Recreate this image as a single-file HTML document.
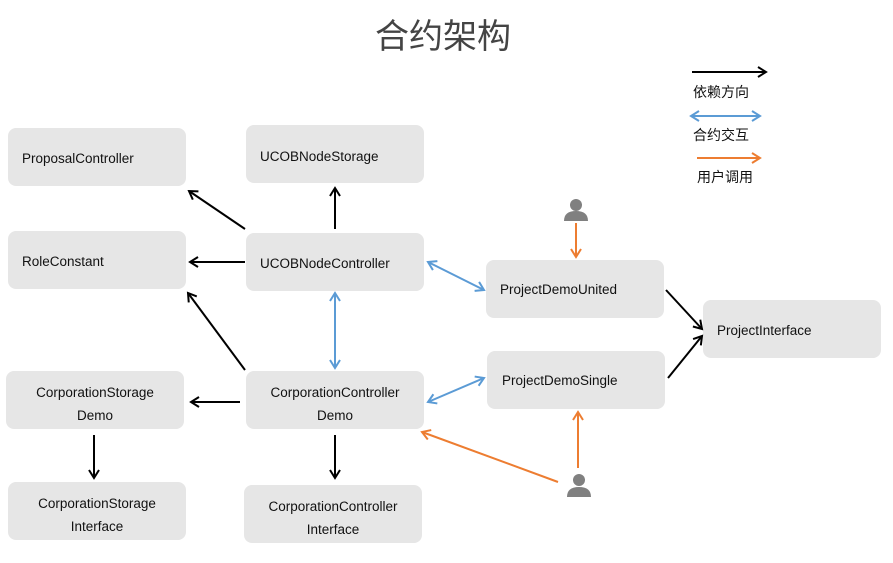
<!DOCTYPE html>
<html><head><meta charset="utf-8"><style>
body{margin:0;background:#fff}
svg{display:block}
text{font-family:"Liberation Sans","Noto Sans CJK SC",sans-serif;font-size:13.5px;fill:#111}
</style></head><body>
<svg width="893" height="563" viewBox="0 0 893 563">
<defs>
<marker id="k" markerWidth="12" markerHeight="12" refX="9" refY="6" orient="auto-start-reverse" markerUnits="userSpaceOnUse"><path d="M1,1 L9,6 L1,11" fill="none" stroke="#000" stroke-width="2"/></marker>
<marker id="b" markerWidth="12" markerHeight="12" refX="9" refY="6" orient="auto-start-reverse" markerUnits="userSpaceOnUse"><path d="M1,1 L9,6 L1,11" fill="none" stroke="#5b9bd5" stroke-width="2"/></marker>
<marker id="o" markerWidth="12" markerHeight="12" refX="9" refY="6" orient="auto-start-reverse" markerUnits="userSpaceOnUse"><path d="M1,1 L9,6 L1,11" fill="none" stroke="#ed7d31" stroke-width="2"/></marker>
</defs>
<text x="443" y="48" text-anchor="middle" style="font-size:34px;fill:#444">合约架构</text>
<g fill="#e6e6e6">
<rect x="8" y="128" width="178" height="58" rx="8"/>
<rect x="246" y="125" width="178" height="58" rx="8"/>
<rect x="8" y="231" width="178" height="58" rx="8"/>
<rect x="246" y="233" width="178" height="58" rx="8"/>
<rect x="486" y="260" width="178" height="58" rx="8"/>
<rect x="703" y="300" width="178" height="58" rx="8"/>
<rect x="487" y="351" width="178" height="58" rx="8"/>
<rect x="6" y="371" width="178" height="58" rx="8"/>
<rect x="246" y="371" width="178" height="58" rx="8"/>
<rect x="8" y="482" width="178" height="58" rx="8"/>
<rect x="244" y="485" width="178" height="58" rx="8"/>
</g>
<text x="22" y="163">ProposalController</text>
<text x="260" y="161">UCOBNodeStorage</text>
<text x="22" y="266">RoleConstant</text>
<text x="260" y="268">UCOBNodeController</text>
<text x="500" y="294">ProjectDemoUnited</text>
<text x="717" y="335">ProjectInterface</text>
<text x="502" y="385">ProjectDemoSingle</text>
<text x="95" y="397" text-anchor="middle">CorporationStorage</text>
<text x="95" y="420" text-anchor="middle">Demo</text>
<text x="335" y="397" text-anchor="middle">CorporationController</text>
<text x="335" y="420" text-anchor="middle">Demo</text>
<text x="97" y="508" text-anchor="middle">CorporationStorage</text>
<text x="97" y="531" text-anchor="middle">Interface</text>
<text x="333" y="511" text-anchor="middle">CorporationController</text>
<text x="333" y="534" text-anchor="middle">Interface</text>
<g stroke="#000" stroke-width="2" fill="none" marker-end="url(#k)">
<line x1="245" y1="229" x2="189" y2="191"/>
<line x1="335" y1="229" x2="335" y2="188"/>
<line x1="245" y1="262" x2="190" y2="262"/>
<line x1="245" y1="370" x2="188" y2="293"/>
<line x1="240" y1="402" x2="191" y2="402"/>
<line x1="94" y1="435" x2="94" y2="478"/>
<line x1="335" y1="435" x2="335" y2="478"/>
<line x1="666" y1="290" x2="702" y2="329"/>
<line x1="668" y1="378" x2="702" y2="336"/>
<line x1="692" y1="72" x2="766" y2="72"/>
</g>
<g stroke="#5b9bd5" stroke-width="2" fill="none" marker-start="url(#b)" marker-end="url(#b)">
<line x1="428" y1="262" x2="484" y2="290"/>
<line x1="335" y1="293" x2="335" y2="368"/>
<line x1="428" y1="402" x2="484" y2="378"/>
<line x1="691" y1="116" x2="760" y2="116"/>
</g>
<g stroke="#ed7d31" stroke-width="2" fill="none" marker-end="url(#o)">
<line x1="576" y1="223" x2="576" y2="257"/>
<line x1="578" y1="468" x2="578" y2="412"/>
<line x1="558" y1="482" x2="422" y2="432"/>
<line x1="697" y1="158" x2="760" y2="158"/>
</g>
<g fill="#808080">
<circle cx="576" cy="205" r="6"/><path d="M564,221 Q564,211 576,211 Q588,211 588,221 Z"/>
<circle cx="579" cy="480" r="6"/><path d="M567,497 Q567,487 579,487 Q591,487 591,497 Z"/>
</g>
<text x="693" y="97" style="font-size:14px">依赖方向</text>
<text x="693" y="140" style="font-size:14px">合约交互</text>
<text x="697" y="182" style="font-size:14px">用户调用</text>
</svg>
</body></html>
